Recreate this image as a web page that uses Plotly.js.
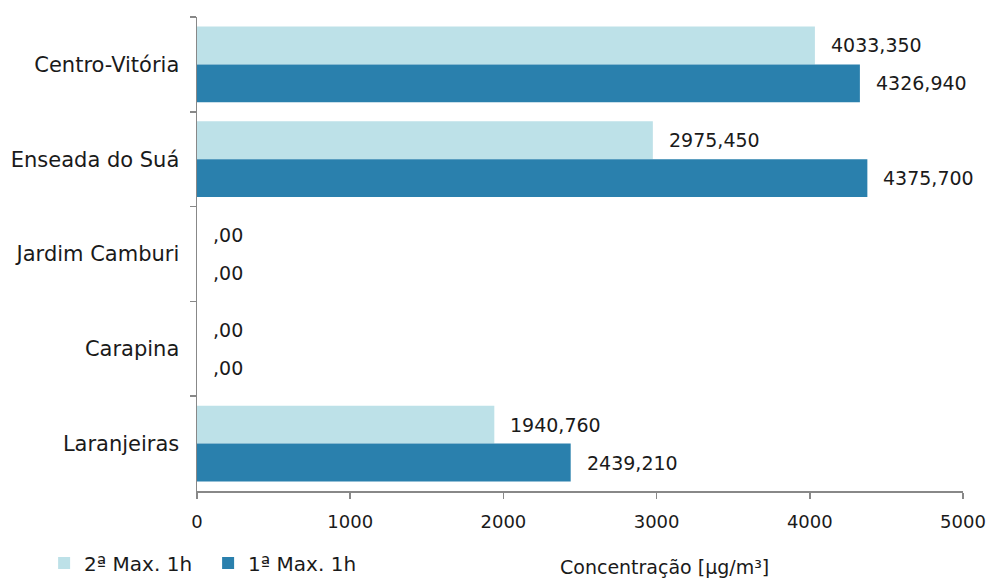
<!DOCTYPE html>
<html>
<head>
<meta charset="utf-8">
<script src="https://cdn.plot.ly/plotly-3.0.1.min.js"></script>
<style>html,body{margin:0;padding:0;background:#fff;}#chart{width:990px;height:579px;}</style>
</head>
<body>
<div id="chart"></div>
<script>
const categories = ["Centro-Vitória", "Enseada do Suá", "Jardim Camburi", "Carapina", "Laranjeiras"];
const seriesNames = ["2ª Max. 1h", "1ª Max. 1h"];
const max2Values = [4033.350, 2975.450, 0, 0, 1940.760];
const max1Values = [4326.940, 4375.700, 0, 0, 2439.210];
const max2Labels = ["4033,350", "2975,450", ",00", ",00", "1940,760"];
const max1Labels = ["4326,940", "4375,700", ",00", ",00", "2439,210"];
const xTicks = [0, 1000, 2000, 3000, 4000, 5000];
const axisTitle = "Concentração [µg/m³]";

const FONT = "DejaVu Sans";
const TXT = "#1a1a1a";
const colors = ["#BDE1E8", "#2A80AD"];

const traces = [
  {type: "bar", orientation: "h", name: seriesNames[0], y: categories, x: max2Values,
   marker: {color: colors[0]}, hoverinfo: "x"},
  {type: "bar", orientation: "h", name: seriesNames[1], y: categories, x: max1Values,
   marker: {color: colors[1]}, hoverinfo: "x"}
];

const annotations = [];
categories.forEach((c, i) => {
  annotations.push({x: max2Values[i], y: c, xref: "x", yref: "y", text: max2Labels[i],
    showarrow: false, xanchor: "left", yanchor: "middle", xshift: 14, yshift: 19,
    font: {family: FONT, size: 19, color: TXT}});
  annotations.push({x: max1Values[i], y: c, xref: "x", yref: "y", text: max1Labels[i],
    showarrow: false, xanchor: "left", yanchor: "middle", xshift: 14, yshift: -19,
    font: {family: FONT, size: 19, color: TXT}});
});
annotations.push({xref: "paper", yref: "paper", x: 0.6097, y: -0.160, xanchor: "center", yanchor: "middle",
  text: axisTitle, showarrow: false, font: {family: FONT, size: 19, color: TXT}});

const layout = {
  width: 990, height: 579,
  margin: {l: 197, r: 27, t: 17, b: 88, pad: 0, autoexpand: false},
  paper_bgcolor: "#fff", plot_bgcolor: "#fff",
  font: {family: FONT, size: 18, color: TXT},
  barmode: "group", bargap: 0.2, bargroupgap: 0,
  showlegend: true,
  legend: {orientation: "h", x: -0.1996, y: -0.152, xanchor: "left", yanchor: "middle",
    font: {family: FONT, size: 20, color: TXT}, traceorder: "normal", itemwidth: 30,
    entrywidth: 119, entrywidthmode: "pixels", bgcolor: "rgba(0,0,0,0)"},
  xaxis: {range: [0, 5000], tickvals: xTicks, ticktext: xTicks.map(String),
    showgrid: false, zeroline: false, showline: true, linecolor: "#888", linewidth: 1.5,
    ticks: "outside", ticklen: 6, tickcolor: "#888", tickwidth: 1.5, ticklabelstandoff: 8,
    tickfont: {family: FONT, size: 18, color: TXT}, fixedrange: true},
  yaxis: {type: "category", autorange: "reversed", showgrid: false, zeroline: false,
    showline: true, linecolor: "#888", linewidth: 1.5, ticks: "outside", ticklen: 6,
    tickcolor: "#888", tickwidth: 1.5, tickson: "boundaries",
    tickfont: {family: FONT, size: 21, color: TXT}, ticklabelstandoff: 12, fixedrange: true},
  annotations: annotations
};

Plotly.newPlot("chart", traces, layout, {displayModeBar: false, staticPlot: true});
</script>
</body>
</html>
